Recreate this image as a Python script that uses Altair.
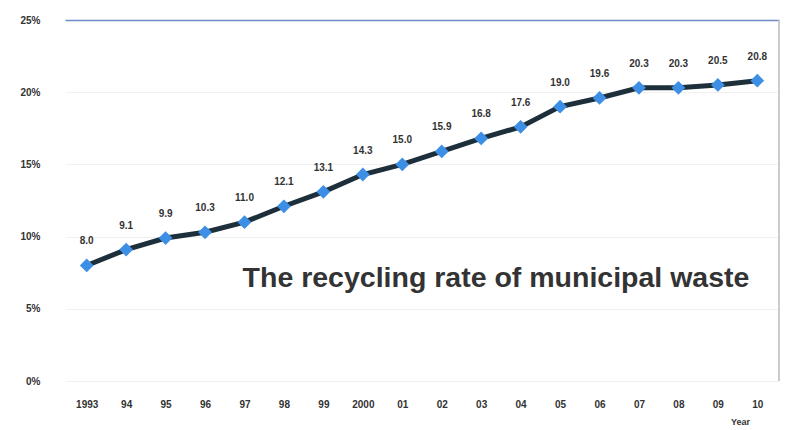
import altair as alt
import pandas as pd

# Recycling rate of municipal waste, 1993-2010 (%)
years = ["1993", "94", "95", "96", "97", "98", "99", "2000", "01", "02",
         "03", "04", "05", "06", "07", "08", "09", "10"]
rates = [8.0, 9.1, 9.9, 10.3, 11.0, 12.1, 13.1, 14.3, 15.0, 15.9,
         16.8, 17.6, 19.0, 19.6, 20.3, 20.3, 20.5, 20.8]

df = pd.DataFrame({"year": years, "rate": rates})

FONT = "Liberation Sans"
PLOT_W, PLOT_H = 714, 361

x = alt.X(
    "year:N",
    sort=None,
    scale=alt.Scale(type="point", padding=0.55),
    axis=alt.Axis(
        title="Year",
        titleFont=FONT,
        titleFontSize=9,
        titleFontWeight="bold",
        titleColor="#333333",
        titleX=675,
        titleY=36,
        titleBaseline="top",
        labelAngle=0,
        labelFont=FONT,
        labelFontSize=10,
        labelFontWeight="bold",
        labelColor="#333333",
        labelPadding=18,
        ticks=False,
        domain=False,
    ),
)

y = alt.Y(
    "rate:Q",
    scale=alt.Scale(domain=[0, 25], nice=False),
    axis=alt.Axis(
        title=None,
        values=[0, 5, 10, 15, 20, 25],
        labelExpr="datum.value + '%'",
        labelFont=FONT,
        labelFontSize=10,
        labelFontWeight="bold",
        labelColor="#333333",
        labelPadding=25,
        ticks=False,
        domain=False,
        grid=True,
        gridColor=alt.condition("datum.value == 25", alt.value("#6f8cc8"),
                                alt.value("#f1f1f1")),
        gridWidth=alt.condition("datum.value == 25", alt.value(1.5),
                                alt.value(1)),
    ),
)

base = alt.Chart(df)

line = base.mark_line(color="#1c2f3a", strokeWidth=5).encode(x=x, y=y)

points = base.mark_point(
    shape="diamond", filled=True, size=190, color="#3d8fe6", opacity=1
).encode(x=x, y=y)

labels = base.mark_text(
    dy=-24, font=FONT, fontSize=10, fontWeight="bold", color="#333333"
).encode(x=x, y=y, text=alt.Text("rate:Q", format=".1f"))

# right-hand edge of the plot frame
frame = alt.Chart(pd.DataFrame({"edge": [0]})).mark_rule(
    color="#bbbbbb", strokeWidth=1.5
).encode(x=alt.value(PLOT_W), y=alt.value(0), y2=alt.value(PLOT_H))

caption = alt.Chart(pd.DataFrame({"t": ["The recycling rate of municipal waste"]})).mark_text(
    font=FONT, fontSize=28.5, fontWeight="bold", color="#333333", align="center",
    baseline="middle"
).encode(text="t:N", x=alt.value(431), y=alt.value(258))

chart = (
    alt.layer(line, points, labels, caption, frame)
    .properties(
        width=PLOT_W,
        height=PLOT_H,
        padding={"left": 65, "top": 20, "right": 6, "bottom": 49},
        autosize=alt.AutoSizeParams(type="none"),
        background="white",
    )
    .configure_view(stroke=None)
)

chart.save("out.html", embed_options={"renderer": "svg", "actions": False})
